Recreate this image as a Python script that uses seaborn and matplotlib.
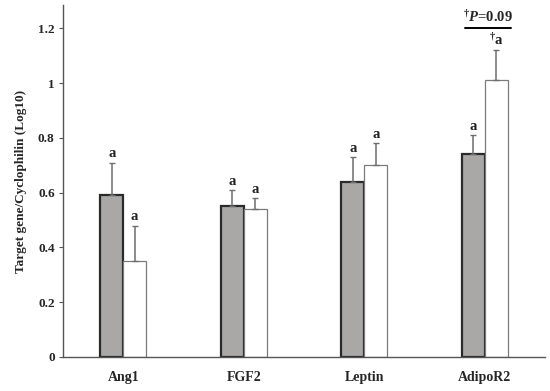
import matplotlib
matplotlib.use("Agg")
import matplotlib.pyplot as plt
import seaborn as sns
import pandas as pd

# =========================
# DATA
# =========================
genes = ["Ang1", "FGF2", "Leptin", "AdipoR2"]
groups = ["Control", "Treated"]
control_vals = [0.59, 0.55, 0.64, 0.74]
control_err = [0.12, 0.06, 0.09, 0.07]
treated_vals = [0.35, 0.54, 0.70, 1.01]
treated_err = [0.13, 0.04, 0.08, 0.11]
control_labels = ["a", "a", "a", "a"]
treated_labels = ["a", "a", "a", "$^{\\dagger}$a"]

df = pd.DataFrame({
    "gene": genes * 2,
    "group": [groups[0]] * 4 + [groups[1]] * 4,
    "value": control_vals + treated_vals,
})

# =========================
# PLOT
# =========================
sns.set_style("white")
plt.rcParams["font.family"] = ["Liberation Serif", "DejaVu Serif"]
plt.rcParams["font.weight"] = "bold"
plt.rcParams["mathtext.fontset"] = "custom"
plt.rcParams["mathtext.it"] = "Liberation Serif:italic:bold"
plt.rcParams["mathtext.rm"] = "Liberation Serif:bold"
plt.rcParams["mathtext.bf"] = "Liberation Serif:bold"

fig = plt.figure(figsize=(5.5, 3.91), dpi=100)
ax = fig.add_axes([0.1145, 0.087, 0.8765, 0.9])

sns.barplot(data=df, x="gene", y="value", hue="group", order=genes,
            hue_order=groups, palette=["#a9a8a6", "white"], width=0.38,
            errorbar=None, legend=False, ax=ax)

bars_c = ax.patches[:4]
bars_t = ax.patches[4:8]
for b in bars_c:
    b.set_edgecolor("#2a2a2a")
    b.set_linewidth(1.6)
for b in bars_t:
    b.set_edgecolor("#7a7a7a")
    b.set_linewidth(0.9)

for bars, vals, errs, labs in [(bars_c, control_vals, control_err, control_labels),
                               (bars_t, treated_vals, treated_err, treated_labels)]:
    for b, v, e, lab in zip(bars, vals, errs, labs):
        xc = b.get_x() + b.get_width() / 2
        ax.errorbar(xc, v, yerr=[[0], [e]], fmt="none", ecolor="#6e6e6e",
                    elinewidth=1.1, capsize=2.5, capthick=1.0)
        ax.text(xc, v + e + 0.008, lab, ha="center", va="bottom",
                fontsize=10.5, fontweight="bold", color="#222222")

# significance bracket over AdipoR2
x_line = bars_t[3].get_x() + bars_t[3].get_width() / 2
ax.plot([x_line - 0.26, x_line + 0.12], [1.2, 1.2], color="black", lw=1.4,
        clip_on=False)
ax.text(x_line - 0.07, 1.212, "$^{\\dagger}\\mathit{P}$=0.09", ha="center",
        va="bottom", fontsize=10.5, fontweight="bold")

ax.set_ylim(0, 1.285)
ax.set_xlim(-0.5, 3.5)
ax.set_yticks([0, 0.2, 0.4, 0.6, 0.8, 1.0, 1.2])
ax.set_yticklabels(["0", "0.2", "0.4", "0.6", "0.8", "1", "1.2"])
ax.set_xlabel("")
ax.set_ylabel("Target gene/Cyclophilin (Log10)", fontsize=9.5,
              fontweight="bold", labelpad=8)

for s in ["top", "right"]:
    ax.spines[s].set_visible(False)
for s in ["left", "bottom"]:
    ax.spines[s].set_color("#555555")
    ax.spines[s].set_linewidth(1.0)

ax.tick_params(axis="y", direction="out", length=3, width=0.8,
               color="#555555", labelsize=9.5, left=True, pad=3)
ax.tick_params(axis="x", length=0, labelsize=10, pad=10)
for t in ax.get_xticklabels() + ax.get_yticklabels():
    t.set_fontweight("bold")

plt.savefig("out.png", dpi=100)
plt.close()
